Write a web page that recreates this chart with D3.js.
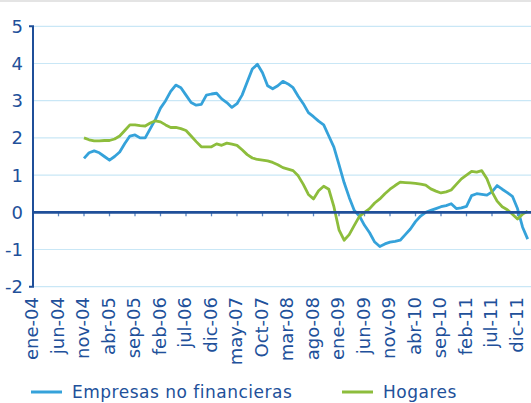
<!doctype html>
<html lang="es">
<head>
  <meta charset="utf-8">
  <script src="https://cdnjs.cloudflare.com/ajax/libs/d3/7.8.5/d3.min.js"></script>
  <style type="text/css">
    body {
      padding: 0;
      margin: 0;
      background: #fff;
    }
    svg text {
      font-family: "DejaVu Sans", sans-serif;
      fill: #21509a;
    }
  </style>
</head>
<body>
<svg id="canvas" width="531" height="403"></svg>
<script>

// month labels, one every 5 months starting ene-04
var tickLabels = ['ene-04', 'jun-04', 'nov-04', 'abr-05', 'sep-05', 'feb-06', 'jul-06',
  'dic-06', 'may-07', 'Oct-07', 'mar-08', 'ago-08', 'ene-09', 'jun-09', 'nov-09',
  'abr-10', 'sep-10', 'feb-11', 'jul-11', 'dic-11'];
var monthCount = 98;   // ene-04 .. feb-12
var seriesStart = 10;  // both series begin nov-04

var yTicks = [-2, -1, 0, 1, 2, 3, 4, 5];

// Empresas no financieras, monthly from nov-04
var empresas = [1.45, 1.60, 1.65, 1.60, 1.50, 1.40, 1.50, 1.62, 1.85, 2.05,
  2.08, 2.00, 2.00, 2.25, 2.50, 2.80, 3.00, 3.25, 3.42, 3.35,
  3.15, 2.95, 2.88, 2.90, 3.15, 3.18, 3.20, 3.05, 2.95, 2.82,
  2.92, 3.15, 3.50, 3.85, 3.98, 3.75, 3.40, 3.32, 3.40, 3.52,
  3.45, 3.35, 3.12, 2.92, 2.68, 2.57, 2.45, 2.35, 2.05, 1.75,
  1.28, 0.80, 0.40, 0.05, -0.10, -0.35, -0.55, -0.80, -0.92, -0.85,
  -0.80, -0.78, -0.75, -0.60, -0.45, -0.25, -0.10, 0.00, 0.05, 0.10,
  0.15, 0.18, 0.23, 0.10, 0.12, 0.16, 0.45, 0.50, 0.48, 0.46,
  0.55, 0.72, 0.62, 0.53, 0.43, 0.10, -0.40, -0.72];

// Hogares, monthly from nov-04
var hogares = [2.00, 1.95, 1.92, 1.92, 1.93, 1.93, 1.97, 2.05, 2.20, 2.35,
  2.35, 2.33, 2.32, 2.40, 2.46, 2.43, 2.35, 2.28, 2.28, 2.25,
  2.20, 2.05, 1.90, 1.76, 1.76, 1.76, 1.84, 1.80, 1.86, 1.83,
  1.80, 1.68, 1.55, 1.46, 1.42, 1.40, 1.38, 1.34, 1.28, 1.20,
  1.16, 1.12, 0.98, 0.75, 0.48, 0.36, 0.58, 0.70, 0.62, 0.15,
  -0.47, -0.75, -0.60, -0.35, -0.11, 0.00, 0.10, 0.25, 0.36, 0.50,
  0.62, 0.72, 0.81, 0.80, 0.79, 0.78, 0.76, 0.73, 0.63, 0.57,
  0.52, 0.55, 0.60, 0.75, 0.90, 1.00, 1.10, 1.08, 1.12, 0.90,
  0.55, 0.30, 0.15, 0.07, -0.05, -0.18, -0.05, 0.03];

var seriesNames = ['Empresas no financieras', 'Hogares'];
var seriesColors = ['#35a2da', '#8dbd3c'];

var width = 531;
var height = 403;
var axisX = 33;

var svg = d3.select('#canvas');

var x = d3.scaleLinear()
  .domain([0, monthCount - 1])
  .range([axisX, axisX + (monthCount - 1) * 5.1]);

var y = d3.scaleLinear()
  .domain([-2, 5])
  .range([286.7, 26.3]);

// thin grey rule across the top
svg.append('rect')
  .attr('x', 0)
  .attr('y', 0)
  .attr('width', width)
  .attr('height', 2)
  .attr('fill', '#e4e4e4');

// gridlines
svg.append('g')
  .selectAll('line')
  .data(yTicks.filter(function(d) { return d !== 0; }))
  .enter().append('line')
  .attr('x1', axisX)
  .attr('x2', width)
  .attr('y1', function(d) { return y(d); })
  .attr('y2', function(d) { return y(d); })
  .attr('stroke', '#c9e7f6')
  .attr('stroke-width', 1.2);

// y axis labels
svg.append('g')
  .selectAll('text')
  .data(yTicks)
  .enter().append('text')
  .attr('x', 23)
  .attr('y', function(d) { return y(d); })
  .attr('dy', '0.36em')
  .attr('text-anchor', 'end')
  .style('font-size', '18px')
  .text(function(d) { return d; });

// y axis line with small end ticks
svg.append('path')
  .attr('d', 'M' + (axisX - 4) + ',' + y(5) + 'H' + axisX + 'V' + y(-2) + 'H' + (axisX - 4))
  .attr('fill', 'none')
  .attr('stroke', '#1f4f99')
  .attr('stroke-width', 2);

// x ticks every 5 months
var tickIdx = tickLabels.map(function(d, i) { return i * 5; });

svg.append('g')
  .selectAll('line')
  .data(tickIdx.slice(1))
  .enter().append('line')
  .attr('x1', function(d) { return x(d); })
  .attr('x2', function(d) { return x(d); })
  .attr('y1', y(0))
  .attr('y2', y(0) + 4)
  .attr('stroke', '#5a86c2')
  .attr('stroke-width', 1.3);

// series lines
var line = d3.line()
  .x(function(d) { return x(d.i); })
  .y(function(d) { return y(d.v); });

[empresas, hogares].forEach(function(values, s) {
  var pts = values.map(function(v, k) { return { i: seriesStart + k, v: v }; });
  svg.append('path')
    .datum(pts)
    .attr('d', line)
    .attr('fill', 'none')
    .attr('stroke', seriesColors[s])
    .attr('stroke-width', 2.8)
    .attr('stroke-linejoin', 'round');
});

// zero axis on top of lines
svg.append('line')
  .attr('x1', axisX)
  .attr('x2', width)
  .attr('y1', y(0))
  .attr('y2', y(0))
  .attr('stroke', '#1f4f99')
  .attr('stroke-width', 2.8);

// x labels, rotated
svg.append('g')
  .selectAll('text')
  .data(tickLabels)
  .enter().append('text')
  .attr('transform', function(d, i) {
    return 'translate(' + x(tickIdx[i]) + ',297) rotate(-90)';
  })
  .attr('dy', '0.3em')
  .attr('text-anchor', 'end')
  .style('font-size', '18px')
  .text(function(d) { return d; });

// legend
var legendX = [31, 342];
var legend = svg.append('g')
  .selectAll('g')
  .data(seriesNames)
  .enter().append('g')
  .attr('transform', function(d, i) { return 'translate(' + legendX[i] + ',392)'; });

legend.append('line')
  .attr('x1', 0)
  .attr('x2', 31)
  .attr('stroke', function(d, i) { return seriesColors[i]; })
  .attr('stroke-width', 3);

legend.append('text')
  .attr('x', 41)
  .attr('dy', '0.36em')
  .style('font-size', '17px')
  .style('letter-spacing', '0.5px')
  .text(function(d) { return d; });

</script>
</body>
</html>
